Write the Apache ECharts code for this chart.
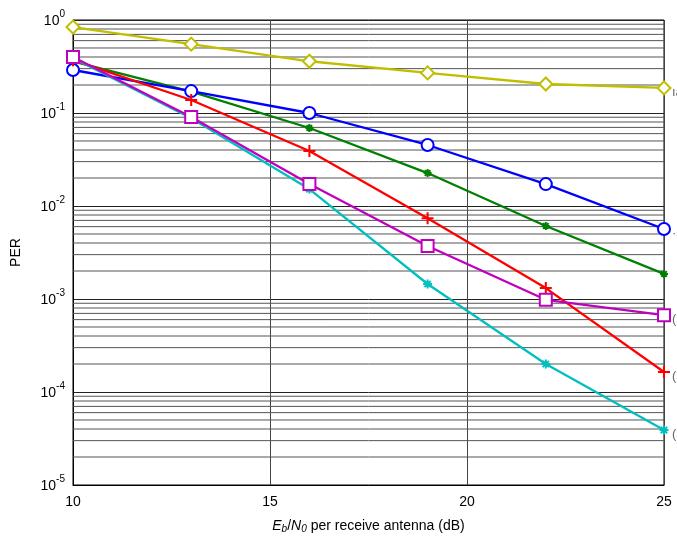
<!DOCTYPE html>
<html>
<head>
<meta charset="utf-8">
<script src="https://cdn.jsdelivr.net/npm/echarts@6/dist/echarts.min.js"></script>
<style>
html,body{margin:0;padding:0;background:#fff;}
#chart{width:677px;height:541px;}
</style>
</head>
<body>
<div id="chart"></div>
<script>
// Eb/N0 per receive antenna (dB)
const snr = [10, 13, 16, 19, 22, 25];

// Packet error rate per scheme
const perYellow  = [0.84, 0.55, 0.36, 0.27, 0.205, 0.186];
const perBlue    = [0.29, 0.172, 0.100, 0.0453, 0.0172, 0.00566];
const perGreen   = [0.36, 0.170, 0.069, 0.0226, 0.0061, 0.00186];
const perRed     = [0.37, 0.138, 0.039, 0.0074, 0.00131, 0.000164];
const perMagenta = [0.40, 0.0906, 0.0172, 0.00372, 0.00098, 0.00067];
const perCyan    = [0.39, 0.088, 0.0152, 0.00145, 0.00020, 0.000039];

const xTicks = [10, 15, 20, 25];
const yDecades = [-5, -4, -3, -2, -1, 0];

// minor grid values 2..9 within each decade
const minorValues = [];
for (let e = -5; e < 0; e++) {
  for (let m = 2; m <= 9; m++) minorValues.push(m * Math.pow(10, e));
}

const plusPath = 'path://M-0.17,-1L0.17,-1L0.17,-0.17L1,-0.17L1,0.17L0.17,0.17L0.17,1L-0.17,1L-0.17,0.17L-1,0.17L-1,-0.17L-0.17,-0.17Z';
const starPath = 'path://M-1,0L1,0M0,-1L0,1M-0.7,-0.7L0.7,0.7M-0.7,0.7L0.7,-0.7';

function pairs(vals) { return snr.map((x, i) => [x, vals[i]]); }

function curve(name, vals, color, symbol, size, style) {
  let itemStyle;
  if (style === 'hollow') itemStyle = { color: '#fff', borderColor: color, borderWidth: 2 };
  else if (style === 'fill') itemStyle = { color, borderWidth: 0 };
  else itemStyle = { color: 'none', borderColor: color, borderWidth: 2 };
  return {
    name, type: 'line', data: pairs(vals), symbol, symbolSize: size,
    showAllSymbol: true, clip: false, z: 5,
    lineStyle: { color, width: 2.3 }, itemStyle
  };
}

// one thin horizontal series per minor grid value
const minorSeries = minorValues.map(v => ({
  type: 'line', data: [[10, v], [25, v]], silent: true, z: 1,
  symbol: 'none', lineStyle: { color: '#555', width: 1 }
}));

const chart = echarts.init(document.getElementById('chart'), null, { renderer: 'canvas' });

chart.setOption({
  animation: false,
  backgroundColor: '#fff',
  textStyle: { fontFamily: 'Liberation Sans, Arial, sans-serif' },
  grid: { left: 73, right: 13, top: 20, bottom: 56, show: true, borderColor: '#000', borderWidth: 1, backgroundColor: 'transparent' },
  xAxis: {
    type: 'value', min: 10, max: 25, interval: 5,
    axisLine: { show: true, lineStyle: { color: '#000' } },
    axisTick: { show: false },
    splitLine: { show: true, lineStyle: { color: '#444', width: 1 } },
    axisLabel: { color: '#000', fontSize: 14, margin: 10, fontFamily: 'Liberation Sans, Arial, sans-serif' },
    name: '{i|E}{sub|b}{n|/}{i|N}{sub|0}{n| per receive antenna (dB)}',
    nameLocation: 'middle', nameGap: 33,
    nameTextStyle: {
      rich: {
        i: { fontStyle: 'italic', fontSize: 14, color: '#000', fontFamily: 'Liberation Sans, Arial' },
        sub: { fontStyle: 'italic', fontSize: 10, color: '#000', verticalAlign: 'bottom', padding: [6, 0, 0, 0], fontFamily: 'Liberation Sans, Arial' },
        n: { fontSize: 14, color: '#000', fontFamily: 'Liberation Sans, Arial' }
      }
    }
  },
  yAxis: {
    type: 'log', logBase: 10, min: 1e-5, max: 1,
    axisLine: { show: true, lineStyle: { color: '#000' } },
    axisTick: { show: false },
    splitLine: { show: true, lineStyle: { color: '#222', width: 1 } },
    axisLabel: {
      margin: 8,
      formatter: v => {
        const e = Math.round(Math.log10(v));
        return '{b|10}{s|' + e + '}';
      },
      rich: {
        b: { fontSize: 14, color: '#000', fontFamily: 'Liberation Sans, Arial', padding: [3, 0, 0, 0] },
        s: { fontSize: 10, color: '#000', fontFamily: 'Liberation Sans, Arial', verticalAlign: 'top', padding: [0, 0, 11, 0] }
      }
    },
    name: 'PER', nameLocation: 'middle', nameGap: 50, nameRotate: 90,
    nameTextStyle: { color: '#000', fontSize: 14, fontFamily: 'Liberation Sans, Arial' }
  },
  series: minorSeries.concat([
    curve('yellow', perYellow, '#BFBF00', 'diamond', 13, 'hollow'),
    curve('green', perGreen, '#008000', starPath, 8, 'line'),
    curve('blue', perBlue, '#0000FF', 'circle', 12, 'hollow'),
    curve('red', perRed, '#FF0000', plusPath, 12, 'fill'),
    curve('cyan', perCyan, '#00BFBF', starPath, 9, 'line'),
    curve('magenta', perMagenta, '#BF00BF', 'rect', 12, 'hollow')
  ])
});

// clipped annotations at the right margin
const notes = [
  { v: perYellow[5], t: '\u0131' },
  { v: perBlue[5], t: '\u00b7' },
  { v: perMagenta[5], t: '(' },
  { v: perRed[5], t: '(' },
  { v: perCyan[5], t: '(' }
];
chart.setOption({
  graphic: notes.map(n => {
    const p = chart.convertToPixel({ xAxisIndex: 0, yAxisIndex: 0 }, [25, n.v]);
    return {
      type: 'text', x: 672, y: p[1] + 4,
      style: { text: n.t + 'a)', fill: '#666', fontSize: 13, fontFamily: 'Liberation Sans, Arial', verticalAlign: 'middle' }
    };
  })
});
</script>
</body>
</html>
